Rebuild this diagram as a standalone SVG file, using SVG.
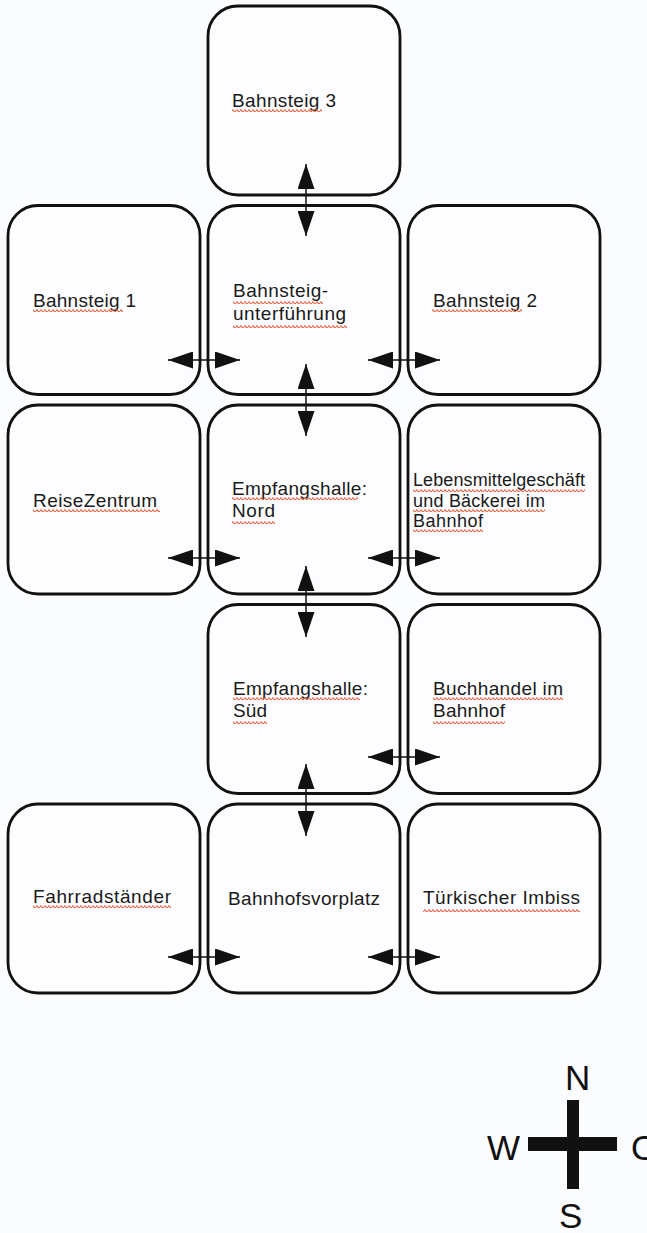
<svg xmlns="http://www.w3.org/2000/svg" width="647" height="1233" viewBox="0 0 647 1233">
  <style>
    .box { fill: #fdfdff; stroke: #111; stroke-width: 2.8; }
    .lbl { font-family: "Liberation Sans", Arial, sans-serif; font-size: 19px; fill: #1a1a1a; }
    .sm { font-size: 18px; }
    .cmp { font-family: "Liberation Sans", Arial, sans-serif; font-size: 35px; fill: #111; }
    .arr { stroke: #111; stroke-width: 1.5; fill: none; marker-start: url(#ah); marker-end: url(#ah); }
    .sq { fill: url(#wave); }
  </style>
  <defs>
    <marker id="ah" markerUnits="userSpaceOnUse" markerWidth="25" markerHeight="17" viewBox="0 0 25 17" refX="25" refY="8.5" orient="auto-start-reverse">
      <path d="M0,0 L25,8.5 L0,17 z" fill="#111"/>
    </marker>
    <pattern id="wave" patternUnits="userSpaceOnUse" width="4" height="4">
      <path d="M0 3 Q1 0.6 2 3 T4 3" fill="none" stroke="#ef6440" stroke-width="1.2"/>
    </pattern>
  </defs>
  <rect width="647" height="1233" fill="#fbfcfe"/>

  <g id="bahnsteig3">
    <rect class="box" x="208" y="6" width="192" height="189" rx="30"/>
    <text class="lbl" x="232" y="107" textLength="104">Bahnsteig 3</text>
    <rect class="sq" x="232" y="108" width="90" height="4"/>
  </g>
  <g id="bahnsteig1">
    <rect class="box" x="8" y="205.5" width="192" height="189" rx="30"/>
    <text class="lbl" x="33" y="307" textLength="103">Bahnsteig 1</text>
    <rect class="sq" x="33" y="308" width="90" height="4"/>
  </g>
  <g id="unterfuehrung">
    <rect class="box" x="208" y="205.5" width="192" height="189" rx="30"/>
    <text class="lbl" x="233" y="297" textLength="95">Bahnsteig-</text>
    <text class="lbl" x="233" y="320" textLength="113">unterführung</text>
    <rect class="sq" x="233" y="300" width="90" height="4"/>
    <rect class="sq" x="233" y="324" width="114" height="4"/>
  </g>
  <g id="bahnsteig2">
    <rect class="box" x="408" y="205.5" width="192" height="189" rx="30"/>
    <text class="lbl" x="433" y="307" textLength="104">Bahnsteig 2</text>
    <rect class="sq" x="432" y="308" width="90" height="4"/>
  </g>
  <g id="reisezentrum">
    <rect class="box" x="8" y="405" width="192" height="189" rx="30"/>
    <text class="lbl" x="33" y="507" textLength="124">ReiseZentrum</text>
    <rect class="sq" x="33" y="508" width="127" height="4"/>
  </g>
  <g id="halle-nord">
    <rect class="box" x="208" y="405" width="192" height="189" rx="30"/>
    <text class="lbl" x="232" y="495" textLength="135">Empfangshalle:</text>
    <text class="lbl" x="232" y="517" textLength="43">Nord</text>
    <rect class="sq" x="232" y="496" width="126" height="4"/>
    <rect class="sq" x="232" y="520" width="43" height="4"/>
  </g>
  <g id="lebensmittel">
    <rect class="box" x="408" y="405" width="192" height="189" rx="30"/>
    <text class="lbl sm" x="413" y="486" textLength="172">Lebensmittelgeschäft</text>
    <text class="lbl sm" x="413" y="507" textLength="132">und Bäckerei im</text>
    <text class="lbl sm" x="413" y="527" textLength="70">Bahnhof</text>
    <rect class="sq" x="413" y="488" width="172" height="4"/>
    <rect class="sq" x="413" y="508" width="132" height="4"/>
    <rect class="sq" x="413" y="528" width="70" height="4"/>
  </g>
  <g id="halle-sued">
    <rect class="box" x="208" y="604.5" width="192" height="189" rx="30"/>
    <text class="lbl" x="233" y="695" textLength="135">Empfangshalle:</text>
    <text class="lbl" x="233" y="717" textLength="34">Süd</text>
    <rect class="sq" x="233" y="696" width="127" height="4"/>
    <rect class="sq" x="233" y="720" width="34" height="4"/>
  </g>
  <g id="buchhandel">
    <rect class="box" x="408" y="604.5" width="192" height="189" rx="30"/>
    <text class="lbl" x="433" y="695" textLength="130">Buchhandel im</text>
    <text class="lbl" x="433" y="717" textLength="72">Bahnhof</text>
    <rect class="sq" x="433" y="696" width="130" height="4"/>
    <rect class="sq" x="433" y="720" width="72" height="4"/>
  </g>
  <g id="fahrrad">
    <rect class="box" x="8" y="804" width="192" height="189" rx="30"/>
    <text class="lbl" x="33" y="903" textLength="138">Fahrradständer</text>
    <rect class="sq" x="33" y="904" width="138" height="4"/>
  </g>
  <g id="vorplatz">
    <rect class="box" x="208" y="804" width="192" height="189" rx="30"/>
    <text class="lbl" x="228" y="905" textLength="152">Bahnhofsvorplatz</text>
  </g>
  <g id="imbiss">
    <rect class="box" x="408" y="804" width="192" height="189" rx="30"/>
    <text class="lbl" x="423" y="904" textLength="157">Türkischer Imbiss</text>
    <rect class="sq" x="423" y="908" width="157" height="4"/>
  </g>

  <g id="connectors">
    <line class="arr" x1="306" y1="164" x2="306" y2="236"/>
    <line class="arr" x1="306" y1="364" x2="306" y2="436"/>
    <line class="arr" x1="306" y1="566" x2="306" y2="637"/>
    <line class="arr" x1="306" y1="764" x2="306" y2="836"/>
    <line class="arr" x1="168" y1="360" x2="240" y2="360"/>
    <line class="arr" x1="368" y1="360" x2="440" y2="360"/>
    <line class="arr" x1="168" y1="558" x2="240" y2="558"/>
    <line class="arr" x1="368" y1="558" x2="440" y2="558"/>
    <line class="arr" x1="368" y1="757" x2="440" y2="757"/>
    <line class="arr" x1="168" y1="957" x2="240" y2="957"/>
    <line class="arr" x1="368" y1="957" x2="440" y2="957"/>
  </g>

  <g id="compass">
    <rect x="567" y="1100" width="12" height="89" fill="#111"/>
    <rect x="528" y="1137" width="89" height="14" fill="#111"/>
    <text class="cmp" x="565" y="1090">N</text>
    <text class="cmp" x="487" y="1160">W</text>
    <text class="cmp" x="631" y="1160">O</text>
    <text class="cmp" x="559" y="1228">S</text>
  </g>
</svg>
